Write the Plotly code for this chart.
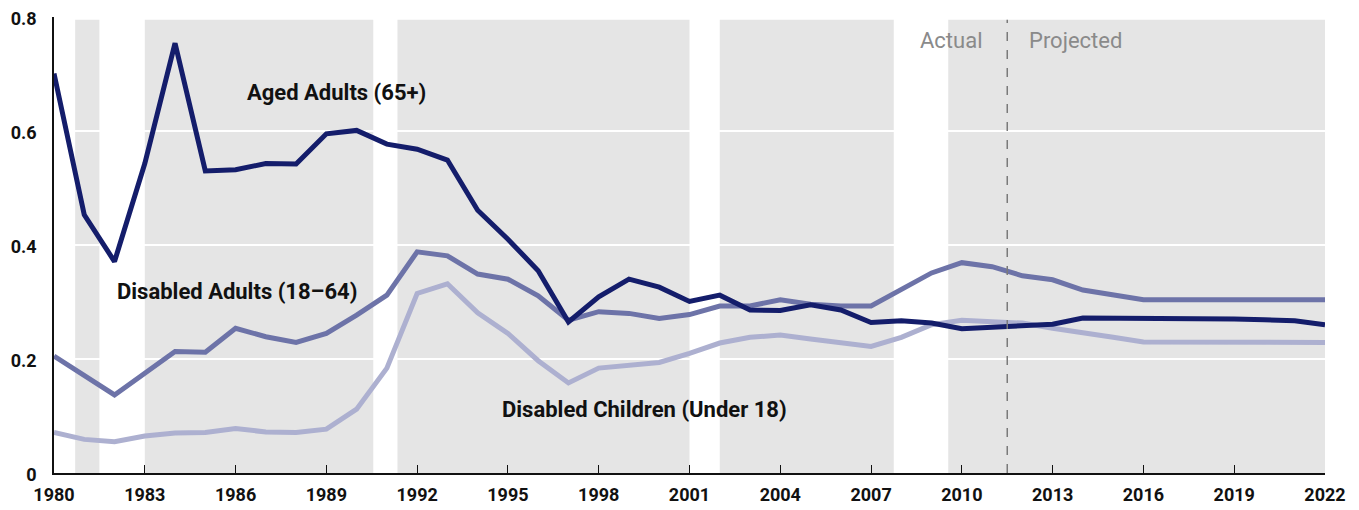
import plotly.graph_objects as go

years = list(range(1980, 2023))

aged_adults = [
    0.701, 0.453, 0.371, 0.543, 0.754, 0.530, 0.532, 0.543, 0.542, 0.595,
    0.601, 0.577, 0.568, 0.549, 0.461, 0.410, 0.355, 0.265, 0.309, 0.340,
    0.326, 0.301, 0.312, 0.286, 0.285, 0.295, 0.286, 0.264, 0.267, 0.263,
    0.253, 0.256, 0.258, 0.261, 0.272, 0.272, 0.272, 0.271, 0.271, 0.270,
    0.269, 0.267, 0.260,
]
disabled_adults = [
    0.205, 0.171, 0.137, 0.175, 0.213, 0.212, 0.254, 0.239, 0.229, 0.245,
    0.277, 0.312, 0.388, 0.381, 0.349, 0.340, 0.311, 0.268, 0.283, 0.280,
    0.271, 0.278, 0.293, 0.293, 0.304, 0.296, 0.293, 0.293, 0.322, 0.351,
    0.369, 0.362, 0.346, 0.339, 0.321, 0.312, 0.304, 0.304, 0.304, 0.304,
    0.304, 0.305, 0.304,
]
disabled_children = [
    0.071, 0.059, 0.055, 0.065, 0.070, 0.071, 0.078, 0.072, 0.071, 0.077,
    0.112, 0.184, 0.315, 0.332, 0.281, 0.245, 0.197, 0.158, 0.184, 0.188,
    0.194, 0.210, 0.228, 0.238, 0.242, 0.235, 0.229, 0.222, 0.238, 0.260,
    0.268, 0.265, 0.263, 0.254, 0.245, 0.238, 0.230, 0.230, 0.229, 0.229,
    0.229, 0.229, 0.229,
]

# shaded periods (start, end) in years
shaded = [(1980.7, 1981.5), (1983.0, 1990.55), (1991.35, 2001.0),
          (2002.0, 2007.75), (2009.55, 2022.1)]
split_year = 2011.5

y_ticks = [0, 0.2, 0.4, 0.6, 0.8]
y_ticktext = ["0", "0.2", "0.4", "0.6", "0.8"]
x_ticks = list(range(1980, 2023, 3))

FONT = "Roboto, sans-serif"
NAVY = "#141d6b"
MID = "#6d73a8"
LIGHT = "#adb0d0"

fig = go.Figure()
series = [
    ("Aged Adults (65+)", aged_adults, NAVY),
    ("Disabled Adults (18–64)", disabled_adults, MID),
    ("Disabled Children (Under 18)", disabled_children, LIGHT),
]
for name, vals, color in reversed(series):
    fig.add_trace(go.Scatter(
        x=years, y=vals, mode="lines", name=name,
        line=dict(color=color, width=5),
        hovertemplate="%{x}: %{y:.3f}<extra>" + name + "</extra>",
    ))

for x0, x1 in shaded:
    fig.add_shape(type="rect", xref="x", yref="y", x0=x0, x1=x1,
                  y0=0, y1=0.795, fillcolor="#e5e5e5", line_width=0,
                  layer="below")

fig.add_shape(type="line", xref="x", yref="y", x0=split_year, x1=split_year,
              y0=0, y1=0.795, line=dict(color="#7a7a7a", width=1.5, dash="dash"))

labels = [
    ("Aged Adults (65+)", 1989.35, 0.667),
    ("Disabled Adults (18–64)", 1986.06, 0.319),
    ("Disabled Children (Under 18)", 1999.51, 0.112),
]
for text, x, y in labels:
    fig.add_annotation(x=x, y=y, text=f"<b>{text}</b>", showarrow=False,
                       font=dict(family=FONT, size=22, color="#111111"))

fig.add_annotation(x=split_year, y=0.758, text="Actual", showarrow=False,
                   xanchor="right", xshift=-22,
                   font=dict(family=FONT, size=22, color="#8a8a8a"))
fig.add_annotation(x=split_year, y=0.758, text="Projected", showarrow=False,
                   xanchor="left", xshift=20,
                   font=dict(family=FONT, size=22, color="#8a8a8a"))

# page body adds an 8px offset, so the figure is sized/margined to compensate
fig.update_layout(
    width=1351, height=502,
    margin=dict(l=46, r=34, t=9, b=37),
    plot_bgcolor="white", paper_bgcolor="white",
    showlegend=False,
    font=dict(family=FONT, size=18, color="#111111"),
    xaxis=dict(
        range=[1980, 2022], tickvals=x_ticks,
        ticktext=[f"<b>{t}</b>" for t in x_ticks],
        showgrid=False, zeroline=False, automargin=False,
        showline=True, linecolor="#111111", linewidth=1.5,
        ticks="inside", ticklen=8, tickcolor="#111111", tickwidth=1.2,
        ticklabelstandoff=5, ticklabeloverflow="allow",
    ),
    yaxis=dict(
        range=[0, 0.8], tickvals=y_ticks,
        ticktext=[f"<b>{t}</b>" for t in y_ticktext],
        showgrid=True, gridcolor="white", gridwidth=1.5,
        zeroline=False, automargin=False,
        showline=True, linecolor="#111111", linewidth=1.5,
        ticks="", ticklabelstandoff=12, ticklabeloverflow="allow",
        ticklabelshift=2,
    ),
)

fig.write_html("out.html")
